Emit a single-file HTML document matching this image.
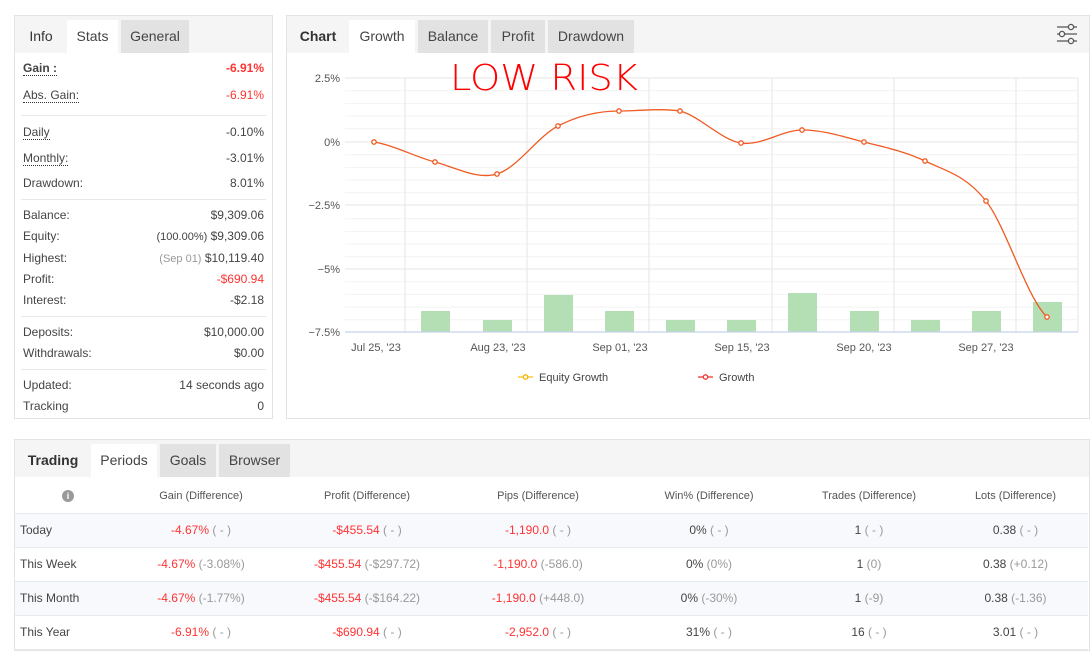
<!DOCTYPE html>
<html><head><meta charset="utf-8"><style>
*{box-sizing:border-box;margin:0;padding:0}
body{width:1091px;height:651px;background:#fff;font-family:"Liberation Sans",Arial,sans-serif;color:#333;position:relative;overflow:hidden;font-size:12px}
.panel{position:absolute;border:1px solid #e3e3e3;background:#fff}
.tabs{position:absolute;left:0;top:0;right:0;height:37px;background:#f5f5f5}
.tab{position:absolute;top:4px;height:33px;line-height:32px;font-size:14px;text-align:center;color:#444}
.tab.act{background:#fff}
.tab.gr{background:#e2e2e2}
.tab.b{font-weight:bold;color:#333}
.row{position:absolute;left:8px;right:8px;font-size:12px;color:#444}
.row .l{position:absolute;left:0}
.row .r{position:absolute;right:0}
.u{border-bottom:1px dotted #333}
.red{color:#f33}
.grey{color:#999}
.sep{position:absolute;left:6px;right:6px;height:1px;background:#e8e8e8}
table{position:absolute;left:0;top:36px;width:1073px;border-collapse:collapse;font-size:12px}
td{text-align:center;height:34px;border-bottom:1px solid #e6e9ee;color:#444}
tr.h td{height:37px;font-size:11px;color:#555;padding-top:3px}
tr.s td{background:#f8f9fc}
td.f{text-align:left;padding-left:5px}
</style></head><body>

<div class="panel" style="left:14px;top:15px;width:259px;height:404px">
 <div class="tabs">
  <div class="tab b" style="left:0;width:52px;font-weight:normal;color:#333">Info</div>
  <div class="tab act" style="left:52px;width:51px">Stats</div>
  <div class="tab gr" style="left:106px;width:68px">General</div>
 </div>
 <div class="row" style="top:45px"><span class="l u" style="font-weight:bold">Gain :</span><span class="r red" style="font-weight:bold">-6.91%</span></div>
 <div class="row" style="top:72px"><span class="l u">Abs. Gain:</span><span class="r red">-6.91%</span></div>
 <div class="sep" style="top:99px"></div>
 <div class="row" style="top:109px"><span class="l u">Daily</span><span class="r">-0.10%</span></div>
 <div class="row" style="top:135px"><span class="l u">Monthly:</span><span class="r">-3.01%</span></div>
 <div class="row" style="top:160px"><span class="l">Drawdown:</span><span class="r">8.01%</span></div>
 <div class="sep" style="top:183px"></div>
 <div class="row" style="top:192px"><span class="l">Balance:</span><span class="r">$9,309.06</span></div>
 <div class="row" style="top:213px"><span class="l">Equity:</span><span class="r"><span style="font-size:11px">(100.00%)</span> $9,309.06</span></div>
 <div class="row" style="top:235px"><span class="l">Highest:</span><span class="r"><span class="grey" style="font-size:11px">(Sep 01)</span> $10,119.40</span></div>
 <div class="row" style="top:256px"><span class="l">Profit:</span><span class="r red">-$690.94</span></div>
 <div class="row" style="top:277px"><span class="l">Interest:</span><span class="r">-$2.18</span></div>
 <div class="sep" style="top:300px"></div>
 <div class="row" style="top:309px"><span class="l">Deposits:</span><span class="r">$10,000.00</span></div>
 <div class="row" style="top:330px"><span class="l">Withdrawals:</span><span class="r">$0.00</span></div>
 <div class="sep" style="top:353px"></div>
 <div class="row" style="top:362px"><span class="l">Updated:</span><span class="r">14 seconds ago</span></div>
 <div class="row" style="top:383px"><span class="l">Tracking</span><span class="r">0</span></div>
</div>

<div class="panel" style="left:286px;top:15px;width:804px;height:404px">
 <div class="tabs">
  <div class="tab b" style="left:0;width:62px">Chart</div>
  <div class="tab act" style="left:62px;width:66px">Growth</div>
  <div class="tab gr" style="left:131px;width:70px">Balance</div>
  <div class="tab gr" style="left:204px;width:54px">Profit</div>
  <div class="tab gr" style="left:261px;width:86px">Drawdown</div>
 </div>
</div>

<svg style="position:absolute;left:0;top:0" width="1091" height="440">
 <g stroke="#555" stroke-width="1.3" fill="#f5f5f5">
  <line x1="1057" y1="27" x2="1077" y2="27"/><line x1="1057" y1="34" x2="1077" y2="34"/><line x1="1057" y1="41" x2="1077" y2="41"/>
  <circle cx="1071" cy="27" r="2.6"/><circle cx="1062" cy="34" r="2.6"/><circle cx="1071" cy="41" r="2.6"/>
 </g>
 <g stroke="#f2f2f2" stroke-width="1">
  <line x1="345" y1="90.7" x2="1078" y2="90.7"/><line x1="345" y1="103.4" x2="1078" y2="103.4"/><line x1="345" y1="116.1" x2="1078" y2="116.1"/><line x1="345" y1="128.8" x2="1078" y2="128.8"/>
  <line x1="345" y1="154.7" x2="1078" y2="154.7"/><line x1="345" y1="167.4" x2="1078" y2="167.4"/><line x1="345" y1="180.1" x2="1078" y2="180.1"/><line x1="345" y1="192.8" x2="1078" y2="192.8"/>
  <line x1="345" y1="218.7" x2="1078" y2="218.7"/><line x1="345" y1="231.4" x2="1078" y2="231.4"/><line x1="345" y1="244.1" x2="1078" y2="244.1"/><line x1="345" y1="256.8" x2="1078" y2="256.8"/>
  <line x1="345" y1="281.7" x2="1078" y2="281.7"/><line x1="345" y1="294.4" x2="1078" y2="294.4"/><line x1="345" y1="307.1" x2="1078" y2="307.1"/><line x1="345" y1="319.8" x2="1078" y2="319.8"/>
 </g>
 <g stroke="#e6e6e6" stroke-width="1">
  <line x1="345" y1="78" x2="1078" y2="78"/><line x1="345" y1="142" x2="1078" y2="142"/><line x1="345" y1="205" x2="1078" y2="205"/><line x1="345" y1="269" x2="1078" y2="269"/>
  <line x1="405" y1="78" x2="405" y2="332"/><line x1="527" y1="78" x2="527" y2="332"/><line x1="649" y1="78" x2="649" y2="332"/><line x1="772" y1="78" x2="772" y2="332"/><line x1="894" y1="78" x2="894" y2="332"/><line x1="1016" y1="78" x2="1016" y2="332"/><line x1="1078" y1="78" x2="1078" y2="332"/>
 </g>
 <g fill="#b4dfb4">
  <rect x="421" y="311" width="29" height="21"/><rect x="483" y="320" width="29" height="12"/><rect x="544" y="295" width="29" height="37"/><rect x="605" y="311" width="29" height="21"/><rect x="666" y="320" width="29" height="12"/><rect x="727" y="320" width="29" height="12"/><rect x="788" y="293" width="29" height="39"/><rect x="850" y="311" width="29" height="21"/><rect x="911" y="320" width="29" height="12"/><rect x="972" y="311" width="29" height="21"/><rect x="1033" y="302" width="29" height="30"/>
 </g>
 <line x1="345" y1="332" x2="1078" y2="332" stroke="#c5d2e8" stroke-width="1.2"/>
 <g font-size="11" fill="#555" text-anchor="end">
  <text x="340" y="82">2.5%</text><text x="340" y="146">0%</text><text x="340" y="209">−2.5%</text><text x="340" y="273">−5%</text><text x="340" y="336">−7.5%</text>
 </g>
 <g font-size="11" fill="#555" text-anchor="middle">
  <text x="376" y="351">Jul 25, '23</text><text x="498" y="351">Aug 23, '23</text><text x="620" y="351">Sep 01, '23</text><text x="742" y="351">Sep 15, '23</text><text x="864" y="351">Sep 20, '23</text><text x="986" y="351">Sep 27, '23</text>
 </g>
 <path d="M374,142 C394.3,145.3 414.7,156.7 435,162 C455.3,167.3 476.7,180 497,174 C517.3,168 537.7,136.5 558,126 C578.3,115.5 598.7,111 619,111 C639.3,111 659.7,108 680,111 C700.3,116.3 720.7,139.8 741,143 C761.3,146.2 781.7,130.2 802,130 C822.3,129.8 843.7,136.8 864,142 C884.3,147.2 904.7,151.2 925,161 C945.3,170.8 965.7,175 986,201 C1006.3,227 1026.7,297.7 1047,317" fill="none" stroke="#f05a22" stroke-width="1.3"/>
 <g fill="#fff" stroke="#f05a22" stroke-width="1.3">
  <circle cx="374" cy="142" r="2.2"/><circle cx="435" cy="162" r="2.2"/><circle cx="497" cy="174" r="2.2"/><circle cx="558" cy="126" r="2.2"/><circle cx="619" cy="111" r="2.2"/><circle cx="680" cy="111" r="2.2"/><circle cx="741" cy="143" r="2.2"/><circle cx="802" cy="130" r="2.2"/><circle cx="864" cy="142" r="2.2"/><circle cx="925" cy="161" r="2.2"/><circle cx="986" cy="201" r="2.2"/><circle cx="1047" cy="317" r="2.2"/>
 </g>
 <line x1="518" y1="377" x2="533" y2="377" stroke="#ffd56a" stroke-width="2"/><circle cx="525.5" cy="377" r="2.2" fill="#fff" stroke="#f5b400" stroke-width="1.3"/>
 <text x="539" y="381" font-size="11" fill="#444">Equity Growth</text>
 <line x1="698" y1="377" x2="713" y2="377" stroke="#f08080" stroke-width="2"/><circle cx="705.5" cy="377" r="2.2" fill="#fff" stroke="#f33" stroke-width="1.3"/>
 <text x="719" y="381" font-size="11" fill="#444">Growth</text>
 <text x="450" y="90" font-size="36" fill="#f00" font-family="DejaVu Sans" font-weight="normal" textLength="188" lengthAdjust="spacingAndGlyphs" style="font-weight:200">LOW RISK</text>
</svg>

<div class="panel" style="left:14px;top:439px;width:1076px;height:212px">
 <div class="tabs">
  <div class="tab b" style="left:0;width:76px">Trading</div>
  <div class="tab act" style="left:76px;width:66px">Periods</div>
  <div class="tab gr" style="left:145px;width:56px">Goals</div>
  <div class="tab gr" style="left:204px;width:71px">Browser</div>
 </div>
 <table>
  <tr class="h"><td style="width:106px"><span style="display:inline-block;width:12px;height:12px;border-radius:6px;background:#999;color:#fff;font-size:9px;line-height:12px;font-weight:bold">i</span></td><td style="width:160px">Gain (Difference)</td><td style="width:172px">Profit (Difference)</td><td style="width:170px">Pips (Difference)</td><td style="width:172px">Win% (Difference)</td><td style="width:148px">Trades (Difference)</td><td>Lots (Difference)</td></tr>
  <tr class="s"><td class="f">Today</td><td><span class="red">-4.67%</span> <span class="grey">( - )</span></td><td><span class="red">-$455.54</span> <span class="grey">( - )</span></td><td><span class="red">-1,190.0</span> <span class="grey">( - )</span></td><td>0% <span class="grey">( - )</span></td><td>1 <span class="grey">( - )</span></td><td>0.38 <span class="grey">( - )</span></td></tr>
  <tr><td class="f">This Week</td><td><span class="red">-4.67%</span> <span class="grey">(-3.08%)</span></td><td><span class="red">-$455.54</span> <span class="grey">(-$297.72)</span></td><td><span class="red">-1,190.0</span> <span class="grey">(-586.0)</span></td><td>0% <span class="grey">(0%)</span></td><td>1 <span class="grey">(0)</span></td><td>0.38 <span class="grey">(+0.12)</span></td></tr>
  <tr class="s"><td class="f">This Month</td><td><span class="red">-4.67%</span> <span class="grey">(-1.77%)</span></td><td><span class="red">-$455.54</span> <span class="grey">(-$164.22)</span></td><td><span class="red">-1,190.0</span> <span class="grey">(+448.0)</span></td><td>0% <span class="grey">(-30%)</span></td><td>1 <span class="grey">(-9)</span></td><td>0.38 <span class="grey">(-1.36)</span></td></tr>
  <tr><td class="f">This Year</td><td><span class="red">-6.91%</span> <span class="grey">( - )</span></td><td><span class="red">-$690.94</span> <span class="grey">( - )</span></td><td><span class="red">-2,952.0</span> <span class="grey">( - )</span></td><td>31% <span class="grey">( - )</span></td><td>16 <span class="grey">( - )</span></td><td>3.01 <span class="grey">( - )</span></td></tr>
 </table>
</div>
</body></html>
